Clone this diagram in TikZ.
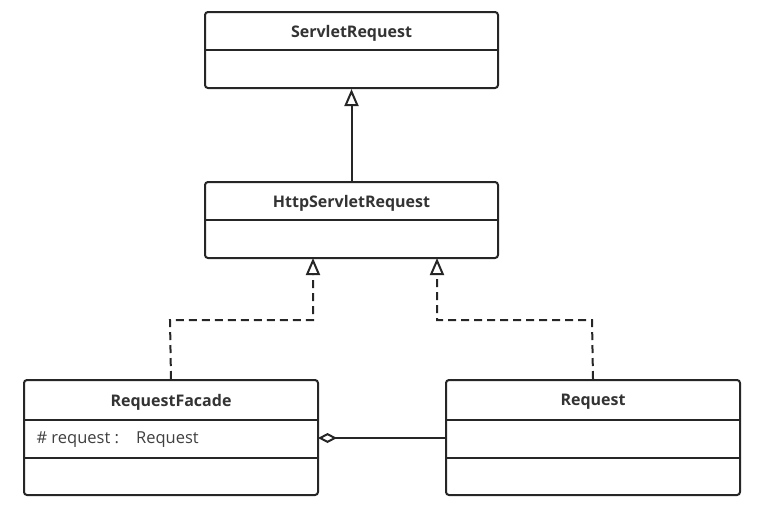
\documentclass[tikz,border=0pt]{standalone}
\usepackage{fontspec}
\setmainfont{Open Sans}
\usetikzlibrary{arrows.meta}
\begin{document}
\begin{tikzpicture}[x=1pt,y=-1pt,
  umlbox/.style={draw=black!85, line width=2pt, rounded corners=3pt, fill=white, inner sep=0pt},
  divider/.style={draw=black!85, line width=2pt},
  title/.style={font=\bfseries\fontsize{16}{18}\selectfont, text=black!80},
  attr/.style={font=\fontsize{16.5}{18}\selectfont, text=black!75, anchor=west},
  conn/.style={draw=black!85, line width=2pt},
  dashconn/.style={conn, dash pattern=on 8pt off 5pt},
  gen/.style={-{Triangle[open,length=17pt,width=14pt,line width=2pt]}},
  agg/.style={-{Diamond[open,length=19pt,width=10pt,line width=2pt]}}
]
\useasboundingbox (0,0) rectangle (757,509);
% boxes
\node[umlbox, minimum width=293pt, minimum height=76pt] (sr) at (351.5,50) {};
\node[umlbox, minimum width=293pt, minimum height=76pt] (hsr) at (351.5,220) {};
\node[umlbox, minimum width=294pt, minimum height=115pt] (rf) at (171,437.5) {};
\node[umlbox, minimum width=294pt, minimum height=115pt] (rq) at (593,437.5) {};
% dividers
\draw[divider] (205,50) -- (498,50);
\draw[divider] (205,220) -- (498,220);
\draw[divider] (24,420) -- (318,420);
\draw[divider] (24,458) -- (318,458);
\draw[divider] (446,420) -- (740,420);
\draw[divider] (446,458) -- (740,458);
% texts
\node[title] (srt) at (351.5,33) {ServletRequest};
\node[title] (hsrt) at (351.5,203) {HttpServletRequest};
\node[title] (rft) at (171,402) {RequestFacade};
\node[title] (rqt) at (593,402) {Request};
\node[attr] (rfa) at (33,440) {\# request :\ \ \ \ Request};
% connectors
\coordinate (hl) at (313,258);
\coordinate (hr) at (437,258);
\coordinate (bl) at (170,320);
\coordinate (br) at (592,320);
\coordinate (rfe) at (318,438);
\coordinate (rqw) at (446,438);
\draw[conn, gen] (hsr.north) -- (sr.south);
\draw[dashconn, gen] (rf.north) -- (bl) -| (hl);
\draw[dashconn, gen] (rq.north) -- (br) -| (hr);
\draw[conn, agg] (rqw) -- (rfe);
\end{tikzpicture}
\end{document}
